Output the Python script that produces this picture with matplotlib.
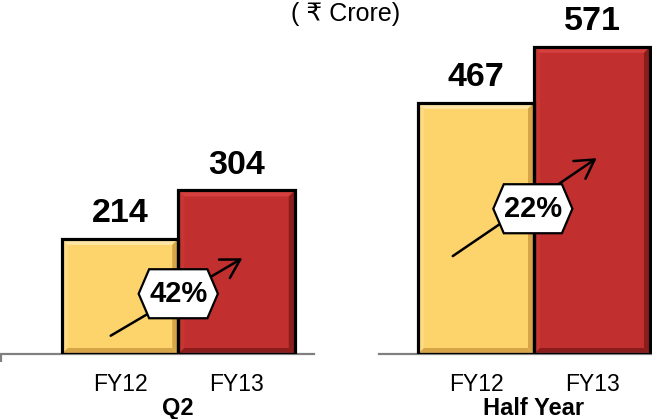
import matplotlib
matplotlib.use("Agg")
import matplotlib.pyplot as plt
from matplotlib.path import Path

plt.rcParams["font.family"] = ["Liberation Sans", "DejaVu Sans"]

# data
groups = ["Q2", "Half Year"]
years = ["FY12", "FY13"]
fy12 = [214, 467]
fy13 = [304, 571]
unit_label = "( \u20b9 Crore)"

# colours
yellow = "#FDD36C"
red = "#C1302F"
bevel_cols = {yellow: ("#FFE6A6", "#D5A548"), red: ("#D4403E", "#8A1D1C")}


def hexagon(x0, y0, width, height, mutation_size):
    # flat top/bottom, pointed left/right
    py = 0.36 * mutation_size
    d = 0.36 * mutation_size
    x1 = x0 + width
    y0 -= py
    y1 = y0 + height + 2 * py
    ym = (y0 + y1) / 2
    verts = [(x0 - d, ym), (x0, y0), (x1, y0), (x1 + d, ym), (x1, y1), (x0, y1), (x0 - d, ym)]
    return Path(verts, closed=True)


def add_bevel(ax, bar, light, dark, bw=6):
    # bevel width in pixels -> data units
    bb = ax.get_window_extent()
    xl, yl = ax.get_xlim(), ax.get_ylim()
    dx = bw * (xl[1] - xl[0]) / bb.width
    dy = bw * (yl[1] - yl[0]) / bb.height
    x0, y0 = bar.get_x(), bar.get_y()
    x1, y1 = x0 + bar.get_width(), y0 + bar.get_height()
    ax.fill([x0, x1, x1 - dx, x0 + dx], [y1, y1, y1 - dy, y1 - dy], color=light, lw=0, zorder=2.5)
    ax.fill([x0, x0, x0 + dx, x0 + dx], [y0, y1, y1 - dy, y0 + dy], color=light, lw=0, zorder=2.5, alpha=0.4)
    ax.fill([x1, x1, x1 - dx, x1 - dx], [y0, y1, y1 - dy, y0 + dy], color=dark, lw=0, zorder=2.5)
    ax.fill([x0, x1, x1 - dx, x0 + dx], [y0, y0, y0 + dy, y0 + dy], color=dark, lw=0, zorder=2.5)


fig = plt.figure(figsize=(6.52, 4.19), dpi=100)
W, H = 652, 419
ax1 = fig.add_axes([0 / W, 65 / H, 314 / W, 354 / H])
ax2 = fig.add_axes([379 / W, 65 / H, 273 / W, 354 / H])

xlims = [(-1.03, 1.665), (-0.836, 1.517)]
ymax = 658
# arrow start/end (x, y in data units) and label position per panel
arrows = [((-0.08, 34), (1.05, 178)), ((-0.2, 182), (1.04, 364))]
label_pos = [(0.5, 112), (0.49, 270)]

for i, ax in enumerate([ax1, ax2]):
    ax.set_xlim(*xlims[i])
    ax.set_ylim(0, ymax)
    vals = [fy12[i], fy13[i]]
    bars = ax.bar([0, 1], vals, width=1.0, color=[yellow, red], zorder=2, lw=0)
    for b, c in zip(bars, [yellow, red]):
        add_bevel(ax, b, *bevel_cols[c])
    ax.bar([0, 1], vals, width=1.0, fill=False, edgecolor="black", lw=2.3, zorder=3)
    for x, v in zip([0, 1], vals):
        ax.annotate(str(v), (x, v), xytext=(0, 12), textcoords="offset points",
                    ha="center", va="baseline", fontsize=24.5, fontweight="bold")

    # growth arrow and label
    (sx, sy), (ex, ey) = arrows[i]
    ax.annotate("", xy=(ex, ey), xytext=(sx, sy),
                arrowprops=dict(arrowstyle="->,head_length=0.6,head_width=0.35",
                                lw=1.8, color="black", mutation_scale=22,
                                shrinkA=0, shrinkB=0), zorder=4)
    growth = round((vals[1] / vals[0] - 1) * 100)
    lx, ly = label_pos[i]
    ax.text(lx, ly, f"{growth}%", ha="center", va="center", fontsize=21,
            fontweight="bold", zorder=5,
            bbox=dict(boxstyle=hexagon, fc="white", ec="black", lw=1.6))

    ax.set_xticks([0, 1], years, fontsize=16.5)
    ax.tick_params(axis="x", length=0, pad=13.5)
    ax.set_yticks([])
    for s in ["top", "left", "right"]:
        ax.spines[s].set_visible(False)
    ax.spines["bottom"].set_color("#808080")
    ax.spines["bottom"].set_linewidth(1.6)
    ax.annotate(groups[i], (0.5, 0), xycoords=("data", "axes fraction"),
                xytext=(0, -31), textcoords="offset points",
                ha="center", va="top", fontsize=17, fontweight="bold",
                annotation_clip=False)

# small tick at left end of first axis line
ax1.set_xticks([xlims[0][0] + 0.012], minor=True)
ax1.tick_params(axis="x", which="minor", length=6, width=1.6, color="#808080")

fig.text(346 / W, 1 - 2 / H, unit_label, ha="center", va="top", fontsize=18)

fig.savefig("out.png", dpi=100)
